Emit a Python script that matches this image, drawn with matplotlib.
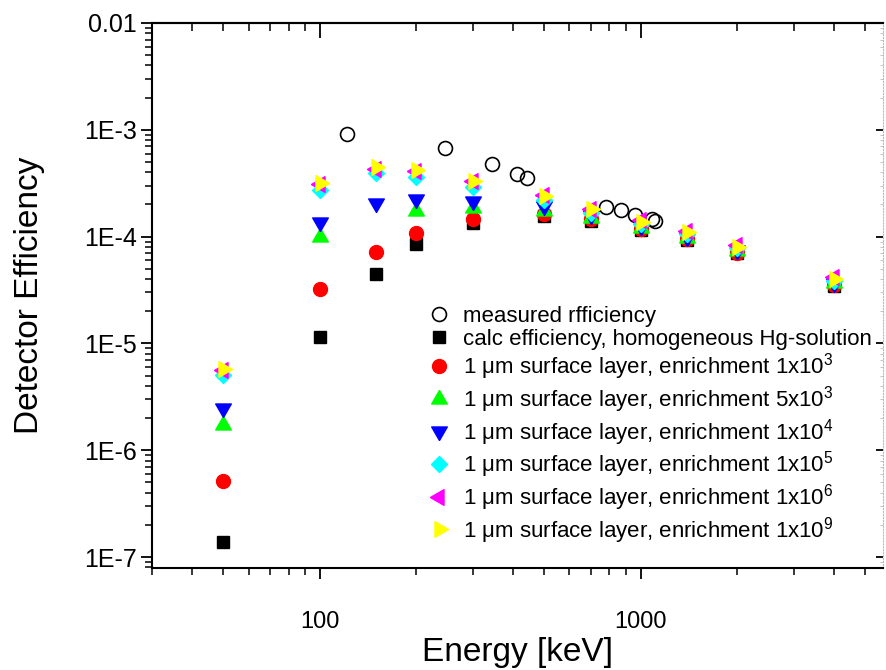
import numpy as np
import matplotlib
matplotlib.use("Agg")
import matplotlib.pyplot as plt
from matplotlib.ticker import LogLocator, NullFormatter

plt.rcParams['font.family'] = ['Liberation Sans', 'DejaVu Sans']
plt.rcParams['mathtext.fontset'] = 'custom'
plt.rcParams['mathtext.rm'] = 'Liberation Sans'
plt.rcParams['mathtext.it'] = 'Liberation Sans:italic'

# gamma energies of the calculated points (keV)
energy = [50, 100, 150, 200, 300, 500, 700, 1000, 1400, 2000, 4000]

# measured efficiency (Eu-152 lines)
meas_energy = [122, 245, 344, 411, 444, 779, 867, 964, 1086, 1112]
meas_eff = [9.1e-4, 6.7e-4, 4.8e-4, 3.86e-4, 3.56e-4, 1.88e-4, 1.77e-4, 1.58e-4, 1.45e-4, 1.39e-4]

calc_homog = [1.37e-7, 1.14e-5, 4.5e-5, 8.5e-5, 1.34e-4, 1.57e-4, 1.4e-4, 1.15e-4, 9.3e-5, 7.0e-5, 3.45e-5]
enr_1e3 = [5.2e-7, 3.2e-5, 7.2e-5, 1.07e-4, 1.47e-4, 1.62e-4, 1.45e-4, 1.17e-4, 9.5e-5, 7.1e-5, 3.5e-5]
enr_5e3 = [1.72e-6, 1.0e-4, np.nan, 1.75e-4, 1.84e-4, 1.75e-4, 1.5e-4, 1.2e-4, 9.8e-5, 7.4e-5, 3.65e-5]
enr_1e4 = [2.47e-6, 1.38e-4, 2.05e-4, 2.23e-4, 2.15e-4, 1.95e-4, 1.58e-4, 1.25e-4, 1.0e-4, 7.5e-5, 3.7e-5]
enr_1e5 = [5.06e-6, 2.75e-4, 3.9e-4, 3.6e-4, 2.93e-4, 2.2e-4, 1.68e-4, 1.3e-4, 1.05e-4, 7.8e-5, 3.85e-5]
enr_1e6 = [5.6e-6, 3.1e-4, 4.3e-4, 4.1e-4, 3.35e-4, 2.45e-4, 1.82e-4, 1.42e-4, 1.13e-4, 8.3e-5, 4.15e-5]
enr_1e9 = [5.8e-6, 3.2e-4, 4.45e-4, 4.2e-4, 3.35e-4, 2.4e-4, 1.8e-4, 1.38e-4, 1.1e-4, 8.0e-5, 4.0e-5]

layer = "1 μm surface layer, enrichment "

# equilateral triangles centred on their centroid
tri_up = [(0, 1), (-0.866, -0.5), (0.866, -0.5), (0, 1)]
tri_down = [(x, -y) for x, y in tri_up]
tri_right = [(y, x) for x, y in tri_up]
tri_left = [(-x, y) for x, y in tri_right]

fig = plt.figure(figsize=(8.86, 6.70), dpi=100)
ax = fig.add_axes([0.1716, 0.1522, 0.8250, 0.8135])

ax.plot(meas_energy, meas_eff, 'o', ms=10, mfc='none', mec='black', mew=1.2,
        label="measured rfficiency")
ax.plot(energy, calc_homog, 's', ms=8.5, color='black',
        label="calc efficiency, homogeneous Hg-solution")
ax.plot(energy, enr_1e3, 'o', ms=10, color='#ff0000', label=layer + "1x10$^3$")
ax.plot(energy, enr_5e3, marker=tri_up, ls='none', ms=13, color='#00ff00', label=layer + "5x10$^3$")
ax.plot(energy, enr_1e4, marker=tri_down, ls='none', ms=13, color='#0000ff', label=layer + "1x10$^4$")
ax.plot(energy, enr_1e5, 'D', ms=8, color='#00ffff', label=layer + "1x10$^5$")
ax.plot(energy, enr_1e6, marker=tri_left, ls='none', ms=13, color='#ff00ff', label=layer + "1x10$^6$")
ax.plot(energy, enr_1e9, marker=tri_right, ls='none', ms=13, color='#ffff00', label=layer + "1x10$^9$")

ax.set_xscale('log')
ax.set_yscale('log')
ax.set_xlim(30, 5700)
ax.set_ylim(7.9e-8, 0.01)

ax.set_xticks([100, 1000])
ax.set_xticklabels(["100", "1000"])
ax.set_yticks([1e-7, 1e-6, 1e-5, 1e-4, 1e-3, 1e-2])
ax.set_yticklabels(["1E-7", "1E-6", "1E-5", "1E-4", "1E-3", "0.01"])
ax.xaxis.set_minor_locator(LogLocator(base=10, subs=np.arange(2, 10)))
ax.yaxis.set_minor_locator(LogLocator(base=10, subs=np.arange(2, 10)))
ax.xaxis.set_minor_formatter(NullFormatter())
ax.yaxis.set_minor_formatter(NullFormatter())

for side in ['left', 'bottom', 'top']:
    ax.spines[side].set_linewidth(1.5)
ax.spines['right'].set_color('#bbbbbb')
ax.spines['right'].set_linestyle(':')
ax.spines['right'].set_linewidth(0.8)

ax.tick_params(axis='both', which='major', width=1.3, length=8)
ax.tick_params(axis='both', which='minor', width=1.1, length=5)
ax.tick_params(axis='x', which='both', direction='out', top=False)
ax.tick_params(axis='y', which='both', direction='out', right=False)
ax.tick_params(axis='x', which='major', labelsize=17, pad=23)
ax.tick_params(axis='y', which='major', labelsize=18, pad=3)

# inward ticks on the top edge, short ticks on the right
sec_x = ax.secondary_xaxis('top')
sec_x.set_xticks([100, 1000])
sec_x.xaxis.set_minor_locator(LogLocator(base=10, subs=np.arange(2, 10)))
sec_x.tick_params(which='both', direction='in', labeltop=False)
sec_x.tick_params(which='major', length=11, width=1.3)
sec_x.tick_params(which='minor', length=6, width=1.1)
sec_x.xaxis.set_minor_formatter(NullFormatter())
sec_x.spines['top'].set_linewidth(1.5)

sec_y = ax.secondary_yaxis('right')
sec_y.set_yticks([1e-7, 1e-6, 1e-5, 1e-4, 1e-3, 1e-2])
sec_y.yaxis.set_minor_locator(LogLocator(base=10, subs=np.arange(2, 10)))
sec_y.tick_params(which='both', direction='in', labelright=False)
sec_y.tick_params(which='major', length=5, width=1.3)
sec_y.tick_params(which='minor', length=2, width=0.6, color='#bbbbbb')
sec_y.yaxis.set_minor_formatter(NullFormatter())
sec_y.spines['right'].set_visible(False)

ax.set_xlabel("Energy [keV]", fontsize=24, labelpad=3)
ax.set_ylabel("Detector Efficiency", fontsize=24, labelpad=28)

ax.legend(loc='center left', bbox_to_anchor=(0.3773, 0.261), frameon=False,
          fontsize=16, handlelength=1.0, handletextpad=0.6, labelspacing=0.08,
          borderpad=0, borderaxespad=0, markerscale=1.0)

fig.savefig("out.png", dpi=100)
